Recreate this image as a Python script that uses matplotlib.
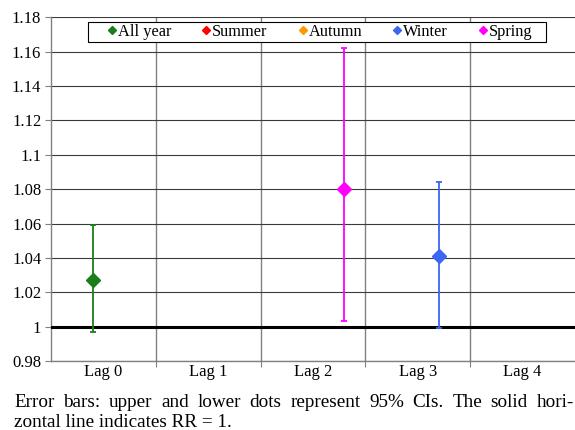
import matplotlib
matplotlib.use("Agg")
import matplotlib.pyplot as plt
from matplotlib.patches import Rectangle
import numpy as np

plt.rcParams["font.family"] = ["Liberation Serif", "DejaVu Serif"]

lags = ["Lag 0", "Lag 1", "Lag 2", "Lag 3", "Lag 4"]
series = ["All year", "Summer", "Autumn", "Winter", "Spring"]
colors = ["#1a7f1a", "#ff0000", "#ff9900", "#3d66f2", "#ff00ff"]

# significant estimates only: (lag index, RR, lower CI, upper CI)
all_year = [(0, 1.027, 0.997, 1.059)]
summer = []
autumn = []
winter = [(3, 1.041, 0.999, 1.084)]
spring = [(2, 1.080, 1.003, 1.162)]
estimates = [all_year, summer, autumn, winter, spring]

yticks = [0.98, 1.0, 1.02, 1.04, 1.06, 1.08, 1.1, 1.12, 1.14, 1.16, 1.18]

W, H = 575, 430
fig = plt.figure(figsize=(W / 100, H / 100), dpi=100)
ax = fig.add_axes([51 / W, 1 - 361 / H, 1 - 51 / W, (361 - 17.3) / H])

offsets = [-0.1, 0.0, 0.1, 0.2, 0.3]
for name, col, off, rows in zip(series, colors, offsets, estimates):
    if rows:
        x = np.array([r[0] for r in rows]) + off
        y = np.array([r[1] for r in rows])
        lo = y - np.array([r[2] for r in rows])
        hi = np.array([r[3] for r in rows]) - y
        ax.errorbar(x, y, yerr=[lo, hi], fmt="D", color=col, ms=7,
                    elinewidth=1.3, capsize=2.2, capthick=1.3, zorder=4)
    ax.plot([], [], "D", color=col, ms=4.5, label=name)

ax.axhline(1.0, color="black", lw=2.2, zorder=3)

ax.set_xlim(-0.5, 4.5)
ax.set_ylim(0.98, 1.18)
ax.set_yticks(yticks)
ax.set_yticklabels([f"{v:g}" for v in yticks])
ax.set_xticks([0.5, 1.5, 2.5, 3.5])
ax.set_xticklabels([])
ax.set_xticks(range(len(lags)), minor=True)
ax.set_xticklabels(lags, minor=True)
ax.tick_params(axis="x", which="minor", length=0, labelsize=12, pad=2)
ax.tick_params(axis="x", which="major", length=4, color="#808080")
ax.tick_params(axis="y", length=4, labelsize=12, pad=3, color="#808080")

ax.yaxis.grid(True, color="#3a3a3a", lw=0.8)
ax.xaxis.grid(True, which="major", color="#808080", lw=1.0)
ax.set_axisbelow(True)
for s in ["top", "right"]:
    ax.spines[s].set_visible(False)
for s in ["left", "bottom"]:
    ax.spines[s].set_color("#808080")
    ax.spines[s].set_linewidth(1.0)

# legend entries without frame; frame drawn as a separate box
leg = ax.legend(loc="center left", bbox_to_anchor=(108 / W, 1 - 32 / H),
                bbox_transform=fig.transFigure, ncol=5, fontsize=11.8,
                frameon=False, handlelength=0.5, handletextpad=0.1,
                columnspacing=1.9, borderpad=0, borderaxespad=0)
leg.set_zorder(6)
ax.add_patch(Rectangle((88 / W, 1 - 42.3 / H), (546 - 88) / W, 20.6 / H,
                       transform=fig.transFigure, facecolor="white",
                       edgecolor="black", lw=0.8, zorder=5, clip_on=False))

# caption, first line justified
line1 = "Error bars: upper and lower dots represent 95% CIs. The solid hori-"
line2 = "zontal line indicates RR = 1."
fs = 13.8
x0, x1 = 14, 574
renderer = fig.canvas.get_renderer()
words = line1.split()
texts = [fig.text(0, 1 - 406.7 / H, w, fontsize=fs, va="baseline") for w in words]
widths = [t.get_window_extent(renderer).width for t in texts]
gap = (x1 - x0 - sum(widths)) / (len(words) - 1)
xpos = x0
for t, w in zip(texts, widths):
    t.set_x(xpos / W)
    xpos += w + gap
fig.text(x0 / W, 1 - 426.7 / H, line2, fontsize=fs, va="baseline")

fig.savefig("out.png", dpi=100)
